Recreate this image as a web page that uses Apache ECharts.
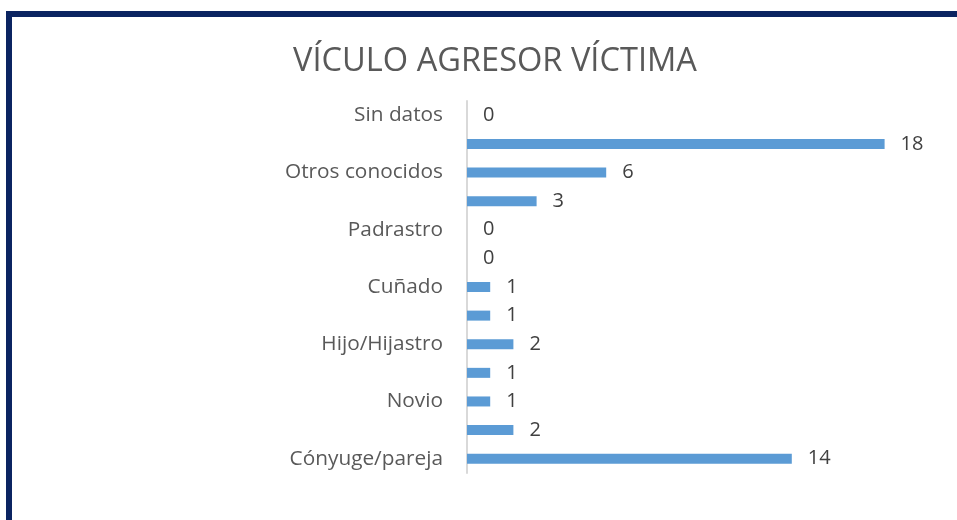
<!DOCTYPE html>
<html>
<head>
<meta charset="utf-8">
<script src="https://cdn.jsdelivr.net/npm/echarts@6/dist/echarts.min.js"></script>
<style>
html,body{margin:0;padding:0;background:#fff;}
#chart{width:957px;height:520px;}
</style>
</head>
<body>
<div id="chart"></div>
<script>
// Categories from bottom to top
var categories = [
  'Cónyuge/pareja',
  'Ex cónyuge/ex pareja',
  'Novio',
  'Ex novio',
  'Hijo/Hijastro',
  'Padre',
  'Cuñado',
  'Hermano',
  'Padrastro',
  'Otro familiar',
  'Otros conocidos',
  'Desconocido',
  'Sin datos'
];
var values = [14, 2, 1, 1, 2, 1, 1, 0, 0, 3, 6, 18, 0];
var titleText = 'VÍCULO AGRESOR VÍCTIMA';

var chart = echarts.init(document.getElementById('chart'), null, {renderer: 'canvas'});
chart.setOption({
  animation: false,
  backgroundColor: '#ffffff',
  title: {
    text: titleText,
    left: 490,
    textAlign: 'center',
    top: 40,
    textStyle: {fontFamily: 'Open Sans', fontSize: 32.6, fontWeight: 'normal', color: '#595959'}
  },
  graphic: [{
    type: 'rect',
    shape: {x: 9, y: 14, width: 1000, height: 600},
    style: {fill: 'none', stroke: '#0b2461', lineWidth: 6},
    z: 100
  }],
  grid: {left: 467, right: 26, top: 101, bottom: 47, containLabel: false},
  xAxis: {
    type: 'value', min: 0, max: 20,
    show: false
  },
  yAxis: {
    type: 'category',
    data: categories,
    axisLine: {show: true, lineStyle: {color: '#d9d9d9', width: 2}},
    axisTick: {show: false},
    axisLabel: {interval: 1, margin: 24, padding: [4, 0, 0, 0], fontFamily: 'Open Sans', fontSize: 20.8, color: '#595959'}
  },
  series: [{
    type: 'bar',
    data: values,
    barWidth: 10,
    itemStyle: {color: '#5b9bd5'},
    label: {show: true, position: 'right', distance: 16, padding: [4, 0, 0, 0], fontFamily: 'Open Sans', fontSize: 20, color: '#404040'}
  }]
});
</script>
</body>
</html>
